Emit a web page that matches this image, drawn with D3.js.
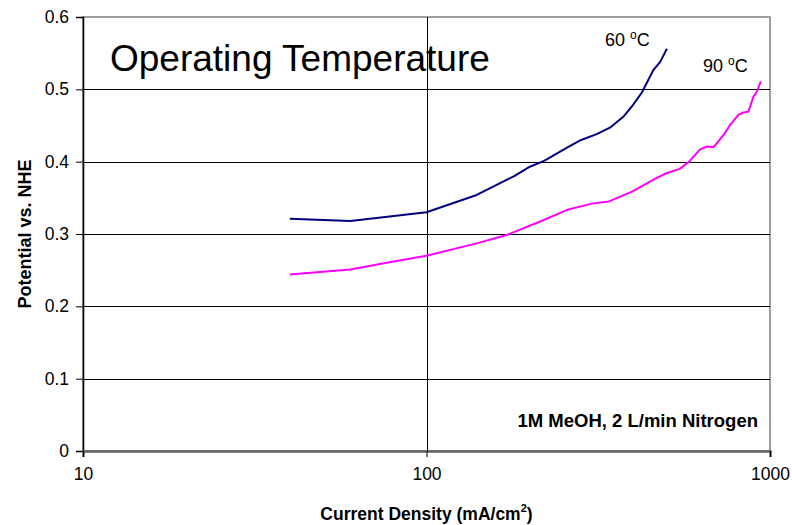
<!DOCTYPE html>
<html>
<head>
<meta charset="utf-8">
<script src="https://cdn.jsdelivr.net/npm/d3@7"></script>
<style>
  body { margin: 0; background: #fff; }
  text { font-family: Arial, "Liberation Sans", sans-serif; }
</style>
</head>
<body>
<svg id="chart" width="792" height="525"></svg>
<script>
// values
let density60 = [40, 60, 100, 140, 160, 180, 200, 220, 258, 282, 313, 342, 374, 400, 423, 438, 458, 479, 501];
let potential60 = [0.321, 0.318, 0.330, 0.354, 0.368, 0.380, 0.393, 0.401, 0.420, 0.430, 0.438, 0.447, 0.462, 0.479, 0.495, 0.509, 0.527, 0.538, 0.556];

let density90 = [40, 60, 78, 100, 140, 172, 216, 259, 303, 340, 398, 461, 499, 546, 584, 626, 655, 685, 733, 766, 810, 837, 865, 895, 916, 940];
let potential90 = [0.244, 0.251, 0.261, 0.270, 0.287, 0.299, 0.318, 0.334, 0.342, 0.345, 0.359, 0.376, 0.384, 0.390, 0.401, 0.417, 0.421, 0.420, 0.437, 0.451, 0.465, 0.468, 0.469, 0.490, 0.497, 0.511];

let xTicks = [10, 100, 1000];
let yTicks = [0, 0.1, 0.2, 0.3, 0.4, 0.5, 0.6];

let series = [
  {name: '60', x: density60, y: potential60, color: '#000080'},
  {name: '90', x: density90, y: potential90, color: '#ff00ff'}
];

let m = {t: 17, r: 22, b: 74, l: 83};
let w = 792, h = 525;

let svg = d3.select('#chart');

let x = d3.scaleLog()
  .domain([10, 1000])
  .range([m.l, w - m.r]);

let y = d3.scaleLinear()
  .domain([0, 0.6])
  .range([h - m.b, m.t]);

// plot border
svg.append('rect')
  .attr('x', m.l)
  .attr('y', m.t)
  .attr('width', w - m.r - m.l)
  .attr('height', h - m.b - m.t)
  .attr('fill', 'none')
  .attr('stroke', '#808080')
  .attr('stroke-width', 1.5);

// gridlines
svg.append('g')
  .selectAll('line')
  .data(yTicks.slice(1, -1))
  .enter()
  .append('line')
    .attr('x1', m.l)
    .attr('x2', w - m.r)
    .attr('y1', (d) => Math.round(y(d)) + 0.5)
    .attr('y2', (d) => Math.round(y(d)) + 0.5)
    .attr('stroke', '#000');

svg.append('g')
  .selectAll('line')
  .data(xTicks.slice(1, -1))
  .enter()
  .append('line')
    .attr('x1', (d) => Math.round(x(d)) + 0.5)
    .attr('x2', (d) => Math.round(x(d)) + 0.5)
    .attr('y1', m.t)
    .attr('y2', h - m.b)
    .attr('stroke', '#000');

// axes
let yAxis = d3.axisLeft(y)
  .tickValues(yTicks)
  .tickFormat((d) => d === 0 ? '0' : d3.format('.1f')(d))
  .tickSize(7)
  .tickPadding(7);

let xAxis = d3.axisBottom(x)
  .tickValues(xTicks)
  .tickFormat(d3.format('d'))
  .tickSize(6)
  .tickPadding(11);

let gy = svg.append('g')
  .attr('transform', `translate(${m.l},0)`)
  .call(yAxis);

let gx = svg.append('g')
  .attr('transform', `translate(0,${h - m.b})`)
  .call(xAxis);

gy.select('.domain').attr('stroke', '#000').attr('stroke-width', 1.5);
gx.select('.domain').attr('stroke', '#606060').attr('stroke-width', 2.5);

svg.selectAll('.tick text')
  .style('font-size', '17.5px')
  .attr('fill', '#000');
svg.selectAll('.tick line').attr('stroke', '#000');

// lines
let line = d3.line()
  .x((d) => x(d[0]))
  .y((d) => y(d[1]));

for(let s of series) {
  let pts = s.x.map((d, i) => [d, s.y[i]]);
  svg.append('path')
    .datum(pts)
    .attr('d', line)
    .attr('fill', 'none')
    .attr('stroke', s.color)
    .attr('stroke-width', 2)
    .attr('stroke-linejoin', 'round');
}

// series labels
let labels = [
  {text: '60', px: 605, py: 46},
  {text: '90', px: 703, py: 72}
];

for(let l of labels) {
  let t = svg.append('text')
    .attr('x', l.px)
    .attr('y', l.py)
    .style('font-size', '18px');
  t.append('tspan').text(l.text + ' ');
  t.append('tspan').text('o').attr('dy', -7).style('font-size', '12px');
  t.append('tspan').text('C').attr('dy', 7);
}

// title
svg.append('text')
  .attr('x', 110)
  .attr('y', 71)
  .style('font-size', '37px')
  .text('Operating Temperature');

// note
svg.append('text')
  .attr('x', 758)
  .attr('y', 427)
  .attr('text-anchor', 'end')
  .style('font-size', '18.5px')
  .style('font-weight', 'bold')
  .text('1M MeOH, 2 L/min Nitrogen');

// axis titles
let xt = svg.append('text')
  .attr('x', (m.l + w - m.r) / 2)
  .attr('y', 520)
  .attr('text-anchor', 'middle')
  .style('font-size', '17.5px')
  .style('font-weight', 'bold');
xt.append('tspan').text('Current Density (mA/cm');
xt.append('tspan').text('2').attr('dy', -8).style('font-size', '11px');
xt.append('tspan').text(')').attr('dy', 8);

svg.append('text')
  .attr('transform', `translate(31,${(m.t + h - m.b) / 2}) rotate(-90)`)
  .attr('text-anchor', 'middle')
  .style('font-size', '18px')
  .style('font-weight', 'bold')
  .text('Potential vs. NHE');
</script>
</body>
</html>
